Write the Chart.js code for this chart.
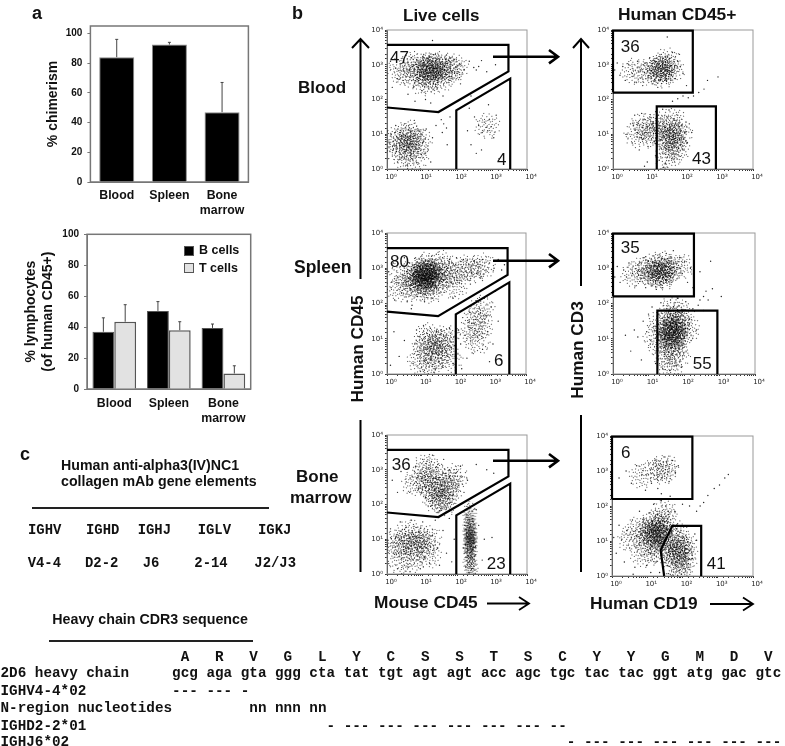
<!DOCTYPE html>
<html lang="en">
<head>
  <meta charset="UTF-8" />
  <title>Humanized mouse chimerism</title>
  <script src="https://cdn.jsdelivr.net/npm/chart.js"></script>
  <style>
    body { margin: 0; background: #fff; color: #111; font-family: 'Liberation Sans', Arial, sans-serif; }
    #page { position: relative; width: 785px; height: 746px; overflow: hidden; }
    canvas, svg { position: absolute; }
    canvas.flow { filter: blur(0.3px); }
    .t { position: absolute; white-space: pre; font-weight: bold; line-height: 1; transform: translateY(-50%); }
    .n { position: absolute; white-space: pre; font-size: 17px; line-height: 1; transform: translateY(-50%); }
    .r { position: absolute; white-space: pre; font-weight: bold; font-size: 17.2px; line-height: 1; transform: translate(-50%, -50%) rotate(-90deg); }
    .m { position: absolute; white-space: pre; font: bold 14.3px/1 'Liberation Mono', monospace; transform: translateY(-50%); }
    .rule { position: absolute; background: #222; height: 1.5px; }
    .sw { position: absolute; width: 8px; height: 8px; border: 1px solid #555; }
  </style>
</head>
<body>
<div id="page">
  <canvas id="chimerism"></canvas>
  <canvas id="lymphocytes"></canvas>
  <canvas id="bloodLive" class="flow"></canvas>
  <canvas id="bloodHuman" class="flow"></canvas>
  <canvas id="spleenLive" class="flow"></canvas>
  <canvas id="spleenHuman" class="flow"></canvas>
  <canvas id="boneLive" class="flow"></canvas>
  <canvas id="boneHuman" class="flow"></canvas>
  <svg width="785" height="746" style="left:0;top:0" fill="none" stroke="#000" stroke-width="2">
    <path d="M360.5 40V279M360.5 420V572M352 48L360.5 39L369 48" />
    <path d="M581 40V286M581 415V572M573 48L581 39L589 48" />
    <path d="M493 56.7H557M549 50L558 56.7L549 63.4" stroke-width="2.6" />
    <path d="M493 260.7H557M549 254L558 260.7L549 267.4" stroke-width="2.6" />
    <path d="M493 460.7H557M549 454L558 460.7L549 467.4" stroke-width="2.6" />
    <path d="M487 603.5H528M519 597L529 603.5L519 610" stroke-width="1.8" />
    <path d="M710 604H752M743 597.5L753 604L743 610.5" stroke-width="1.8" />
  </svg>
</div>

<script>
  // panel a
  const organs = ['Blood', 'Spleen', ['Bone', 'marrow']];
  const chimerism = [84, 92.5, 47];
  const chimerismErr = [96, 94, 67];
  const bCells = [37, 50.5, 39.5];
  const bCellsErr = [46, 56.5, 42];
  const tCells = [43.5, 38, 10];
  const tCellsErr = [54.5, 43.5, 15];
  const percentTicks = [0, 20, 40, 60, 80, 100];

  // panel b, gates (log10 of the fluorescence)
  const liveHumanGate = [[0, 3.57], [3.47, 3.57], [3.47, 2.81], [1.47, 1.64], [0, 1.77]];
  const liveMouseGate = [[1.98, 0], [1.98, 1.69], [3.52, 2.6], [3.52, 0]];
  const tGate = [[0, 2.2], [2.28, 2.2], [2.28, 3.98], [0, 3.98], [0, 2.2]];
  const bGate = [[1.25, 0], [1.25, 1.8], [2.94, 1.8], [2.94, 0]];
  const boneBGate = [[1.48, 0], [1.38, 0.74], [1.71, 1.43], [2.53, 1.43], [2.53, 0]];

  // panel b, events (log10 x, log10 y); clouds mark the dense populations
  const bloodLiveCloud = [[1.25,2.95],[1.3,2.85],[1.15,2.9],[1.4,3],[1.05,2.8],[1.2,2.7],[1.5,2.9],[1.75,2.85],[1.85,2.8],[1.65,2.95],[1,3],[0.85,2.75],[1.3,2.55],[0.6,2.7],[1.05,2.45],[0.7,3],[1.95,2.95],[1.55,2.6],[0.4,2.85],[1.28,2.9],[1.22,2.82],[0.65,0.8],[0.55,0.65],[0.75,0.95],[0.45,0.85],[0.8,0.6],[0.35,0.6],[0.6,1.05],[0.25,0.85],[0.95,0.8],[0.5,0.35],[0.8,0.3],[2.85,1.25]];
  const bloodLiveDots = [[0.1,3.1],[0.25,2.9],[0.3,2.6],[0.45,3.05],[0.5,2.45],[0.6,2.85],[0.7,3.2],[0.75,2.35],[0.85,3.15],[0.9,2.55],[1,2.25],[1.05,3.3],[1.12,2.42],[1.2,3.25],[1.32,2.3],[1.38,3.3],[1.45,2.5],[1.55,3.22],[1.6,2.62],[1.7,3.28],[1.8,2.55],[1.92,3.15],[2,2.75],[2.08,3.02],[2.2,2.85],[2.35,3.1],[2.48,2.92],[2.55,2.85],[2.62,2.95],[2.7,3.12],[2.85,2.8],[3.1,3],[0.15,2.35],[1.1,2],[0.8,1.95],[1.25,1.9],[1.6,2.1],[2.1,2.45],[0.05,0.3],[0.12,1],[0.18,0.55],[0.25,1.25],[0.3,0.2],[0.38,1.05],[0.42,0.32],[0.5,1.3],[0.58,0.12],[0.62,1.12],[0.7,0.3],[0.78,1.4],[0.85,0.18],[0.92,1.08],[0.98,0.42],[1.05,0.8],[1.12,1.15],[1.18,0.55],[1.25,0.2],[1.3,0.9],[1.4,1.25],[1.55,1.42],[1.62,1.3],[1.7,1.18],[1.58,1.05],[1.8,1.5],[1.72,0.7],[2.3,1.1],[2.4,0.7],[2.5,1.5],[2.55,0.45],[2.62,1.25],[2.72,1.05],[2.78,1.35],[2.85,1.2],[2.88,1.1],[2.92,1.42],[2.98,1.22],[3.05,0.9],[3.12,1.55],[2.7,0.55],[2.35,1.75],[2.9,1.85],[3.2,0.3],[0.6,2.15],[1.3,3.7],[2.4,2.1],[3,2.3]];

  const bloodHumanCloud = [[1.35,2.85],[1.42,2.95],[1.28,2.78],[1.5,2.9],[1.18,2.85],[1.4,2.7],[0.9,2.8],[1.7,2.85],[0.6,2.8],[1.55,3.1],[1.38,2.88],[1.65,0.95],[1.72,0.8],[1.58,1.12],[1.75,1.1],[1.65,0.6],[1.45,0.95],[1,1.15],[0.88,1.25],[1.1,0.95],[1.9,1],[1.7,1.4],[1.55,0.35],[0.7,1],[1.85,0.55],[1.3,1.25],[1.68,0.9]];
  const bloodHumanDots = [[0.05,2.85],[0.12,3.05],[0.2,2.7],[0.28,2.95],[0.35,2.55],[0.45,3],[0.55,2.75],[0.62,2.5],[0.7,3.1],[0.78,2.85],[0.85,2.4],[0.92,3.05],[1,2.65],[1.05,3.2],[1.12,2.45],[1.2,3.18],[1.28,2.35],[1.38,3.3],[1.48,2.55],[1.55,3.22],[1.62,2.72],[1.7,3.35],[1.78,2.6],[1.85,3.1],[1.92,2.95],[2,2.75],[2.1,2.4],[1.9,3.3],[1.55,3.8],[0.4,1],[0.5,1.3],[0.55,0.75],[0.62,1.55],[0.7,1.05],[0.75,0.55],[0.82,1.6],[0.85,0.85],[0.92,1.42],[1,0.65],[1.05,1.5],[1.12,1.3],[1.18,0.8],[1.22,1.65],[0.98,0.2],[1.3,1.55],[1.32,0.25],[1.38,0.6],[1.42,1.72],[1.5,0.15],[1.52,1.4],[1.6,1.7],[1.68,0.3],[1.72,1.45],[1.8,0.45],[1.85,1.55],[1.9,0.85],[1.95,1.25],[2,0.55],[2.05,1.05],[2.12,0.75],[2.18,1.3],[2.25,1.05],[1.7,1.95],[1.85,2.02],[2,2.1],[2.15,2.05],[2.3,2.1],[2.45,2.2],[2.6,2.3],[2.7,2.55],[3,2.65],[1.45,0.05],[0.9,0.08]];

  const spleenLiveCloud = [[1.1,2.85],[1.18,2.95],[1.02,2.75],[1.25,2.78],[0.95,2.9],[1.12,2.65],[1.3,3],[0.85,2.7],[1.45,2.85],[1.65,2.9],[0.75,2.85],[1.05,2.45],[1.85,2.85],[1.55,2.65],[2.1,2.9],[0.6,2.55],[1.1,3.1],[0.45,2.85],[0.8,2.4],[1.3,2.35],[2.3,3],[2.5,2.95],[1.95,2.5],[1.6,3.15],[0.35,2.4],[2.75,3.05],[1.1,2.85],[1.15,2.75],[1,2.85],[1.13,2.8],[1.08,2.9],[1.2,2.85],[1.05,2.65],[1.18,2.55],[1.4,2.7],[0.9,2.6],[1.45,0.85],[1.3,0.65],[1.55,0.95],[1.2,0.9],[1.62,0.65],[1.4,0.45],[1.05,0.7],[1.15,1.1],[1.7,1.05],[1.25,0.25],[0.95,0.35],[1.8,0.4],[2.55,1.6],[2.7,1.4],[2.4,1.2],[2.75,1.85],[2.6,0.9]];
  const spleenLiveDots = [[0.05,2.9],[0.12,2.45],[0.18,3.15],[0.22,2.1],[0.3,2.75],[0.38,3.05],[0.42,2.3],[0.5,3.3],[0.58,2.05],[0.65,3.15],[0.72,1.95],[0.8,3.28],[0.88,2.2],[1,3.35],[1.08,2.05],[1.2,3.35],[1.3,2.15],[1.42,3.4],[1.52,2.3],[1.6,3.3],[1.72,2.45],[1.8,3.25],[1.9,2.55],[2,3.3],[2.08,2.6],[2.2,3.25],[2.28,2.75],[2.35,3.12],[2.42,2.95],[2.5,3.2],[2.58,2.85],[2.65,3.05],[2.75,3.25],[2.85,2.95],[2.95,3.15],[3.08,3],[3.2,3.25],[3.3,2.95],[3.38,3.1],[2.4,2.55],[2.7,2.75],[1.9,2.15],[0.7,1.85],[1.35,0.05],[0.75,0.3],[0.8,0.85],[0.85,1.25],[0.9,0.55],[0.95,1.05],[1,0.2],[1.05,1.38],[1.1,0.7],[1.15,1.15],[1.18,0.3],[1.25,1.3],[1.3,1.05],[1.38,0.15],[1.42,1.2],[1.5,0.35],[1.55,1.25],[1.6,0.2],[1.7,1.1],[1.75,0.5],[1.8,1.3],[1.85,0.75],[1.9,0.3],[1.92,1.05],[0.2,1.2],[0.35,0.5],[0.5,0.95],[0.1,0.25],[2.05,1.25],[2.12,0.85],[2.18,1.6],[2.25,1.1],[2.3,0.45],[2.38,1.75],[2.42,1.3],[2.5,2],[2.55,1.55],[2.6,1.05],[2.65,1.85],[2.7,1.45],[2.75,0.7],[2.8,2.15],[2.85,1.65],[2.9,1.2],[3,1.9],[3.05,0.85],[3.12,2.35],[3.2,1.5],[3.28,0.4],[2.45,0.6],[2.15,0.15],[2.95,0.35]];

  const spleenHumanCloud = [[1.35,2.9],[1.45,3],[1.25,2.85],[1.55,2.95],[1.15,2.8],[1.4,2.75],[1.65,3.05],[1,2.9],[0.6,2.8],[0.85,2.95],[1.9,3.05],[1.35,3.15],[1.1,3.05],[1.42,2.92],[1.3,2.8],[1.7,1.15],[1.65,1.3],[1.75,1],[1.6,0.95],[1.8,1.3],[1.62,1.55],[1.72,0.72],[1.5,1.2],[1.9,1.1],[1.55,0.45],[1.85,1.55],[1.3,1.45],[1.2,1.05],[1.95,1.7],[1.7,1.85],[1.6,0.2],[1.8,0.5],[1.35,0.8],[2.1,1.3],[1.68,1.2],[1.72,1.1],[1.62,1.05],[1.75,1.35],[1.68,1.45],[1.6,1.25],[1.7,0.9]];
  const spleenHumanDots = [[0.05,2.75],[0.12,3.05],[0.2,2.6],[0.3,2.95],[0.38,2.75],[0.45,3.15],[0.55,2.85],[0.62,2.5],[0.7,3.1],[0.78,2.72],[0.85,3.3],[0.92,2.45],[1,3.2],[1.08,2.5],[1.15,3.35],[1.22,2.4],[1.3,3.38],[1.4,2.45],[1.5,3.42],[1.6,2.55],[1.7,3.5],[1.8,2.7],[1.88,3.3],[1.95,2.85],[2.02,3.2],[2.1,2.6],[2.18,3],[2.25,2.45],[2.45,2.9],[2.75,3.2],[0.35,1.1],[0.5,0.65],[0.6,1.25],[0.7,1.05],[0.8,0.4],[0.85,1.5],[0.95,1.2],[1,1.7],[1.05,0.85],[1.1,1.9],[1.15,1.35],[1.2,0.3],[1.25,1.05],[1.28,1.7],[1.32,0.6],[1.35,2.02],[1.4,0.15],[1.42,1.5],[1.48,0.8],[1.52,1.85],[1.6,0.1],[1.62,2.1],[1.7,1.9],[1.78,0.25],[1.82,2.15],[1.88,0.6],[1.95,1.75],[2,0.85],[2.05,2.05],[2.1,1.3],[2.15,1.55],[2.2,0.95],[2.25,1.85],[2.35,1.25],[2.4,1.95],[2.45,2.1],[2.55,2.2],[2.62,2.35],[2.68,2.1],[2.8,2.42],[3.05,2.2],[2.55,1.8]];

  const boneLiveCloud = [[1.25,2.5],[1.15,2.6],[1.4,2.45],[1.55,2.1],[1.48,2.2],[1.65,2.05],[1.7,2.55],[1.85,2.65],[1.3,2.95],[1,2.75],[1.1,3.1],[1.75,2.35],[1.4,2.15],[0.8,2.6],[1.95,2.8],[1.5,2.7],[0.8,0.95],[0.65,0.85],[0.95,1.05],[0.5,0.95],[0.85,0.7],[1.05,0.8],[0.35,0.8],[0.2,0.9],[0.75,0.4],[1.2,1],[0.6,1.2],[0.4,0.35],[1.2,0.55]];
  const boneMouseCloud = [[2.37,1.05],[2.38,1.25],[2.36,0.8],[2.4,0.6],[2.35,1.45],[2.38,0.35],[2.37,1],[2.39,1.15],[2.36,0.9],[2.38,1.7],[2.4,0.15]];
  const boneLiveDots = [[0.15,2.7],[0.3,2.35],[0.4,2.95],[0.55,2.65],[0.65,2.35],[0.72,2.8],[0.82,3.1],[0.9,2.45],[0.98,2.75],[1.02,3.3],[1.1,2.2],[1.18,3.05],[1.25,1.95],[1.3,3.42],[1.38,2.75],[1.45,3.15],[1.5,1.82],[1.58,2.85],[1.62,3.3],[1.7,1.9],[1.78,3],[1.88,2.25],[1.95,2.9],[2.05,2.55],[2.1,3.1],[2.2,2.35],[2.3,2.7],[2.55,3.15],[2.85,3],[3.05,2.9],[0.05,0.3],[0.1,1.3],[0.18,0.6],[0.25,1.05],[0.3,0.15],[0.38,1.5],[0.42,0.45],[0.55,1.35],[0.6,0.2],[0.7,1.55],[0.75,0.4],[0.88,1.35],[0.95,0.15],[1.02,1.5],[1.08,0.5],[1.15,1.22],[1.22,0.3],[1.3,1.1],[1.38,1.55],[1.45,0.75],[1.5,0.25],[1.6,1.25],[1.7,0.6],[1.78,1.6],[1.85,0.35],[1.92,1],[2.18,0.75],[2.22,1.4],[2.25,0.2],[2.28,1.7],[2.3,1.05],[2.32,0.5],[2.33,1.9],[2.42,0.15],[2.44,1.6],[2.46,0.9],[2.5,1.2],[2.52,0.55],[2.55,1.85],[2.62,1.4],[2.78,1],[3,1.05],[2.72,0.4]];

  const boneHumanCloud = [[1.25,3.05],[1.45,3],[1.55,3.1],[0.85,2.85],[1.25,1.25],[1.1,1.15],[1.35,1.3],[1.2,1],[1.42,1.05],[1,1.3],[1.55,1.5],[0.95,0.95],[1.48,0.75],[1.85,0.85],[1.95,0.65],[1.75,0.55],[2,0.95],[1.85,0.3],[1.68,0.95],[2.05,0.4],[0.7,1.3],[0.5,1.05],[1.3,1.6],[1.5,1.85],[0.9,0.6],[1.25,0.65],[1.8,1.15],[2.05,0.75],[1.95,0.2],[1.15,1.45],[1.28,1.2],[1.2,1.3],[1.32,1.12],[1.12,1.22],[1.4,1.38],[1.88,0.75],[1.9,0.55]];
  const boneHumanDots = [[0.2,2.8],[0.4,3],[0.55,2.65],[0.7,3.15],[0.85,2.9],[0.95,2.45],[1.05,3.2],[1.12,2.65],[1.22,3.3],[1.3,2.5],[1.5,3.4],[1.62,2.7],[1.72,3.3],[1.8,2.95],[1.88,3.15],[1.4,2.35],[0.05,1.1],[0.12,0.65],[0.2,1.45],[0.28,1.05],[0.35,0.4],[0.42,1.3],[0.5,0.8],[0.58,1.6],[0.65,0.25],[0.7,1.15],[0.78,1.85],[0.82,0.6],[0.9,1.6],[0.98,0.3],[1.05,1.8],[1.1,0.65],[1.18,2.05],[1.25,0.4],[1.3,1.75],[1.35,0.1],[1.4,2.15],[1.45,1.65],[1.52,2],[1.58,0.3],[1.6,1.85],[1.65,2.28],[1.7,1.3],[1.78,1.85],[1.82,1.35],[1.9,0.15],[1.95,1.25],[2.02,1.1],[2.1,0.65],[2.12,1.4],[2.18,0.25],[2.22,0.95],[2.28,0.5],[2.35,1.2],[2.4,1.02],[0.6,0.05],[1.1,0.1],[2,2.05],[2.2,2],[2.4,1.85],[2.5,2],[2.6,2.1],[2.72,2.3],[2.9,2.5],[3.05,2.6],[3.2,2.8],[3.3,2.9],[1.9,2.2]];

  const decadeLabels = ['10\u2070', '10\u00b9', '10\u00b2', '10\u00b3', '10\u2074'];

  // grain of a cloud point, pixels from its centre
  const grain = [[0,0],[2,-1],[-2,1],[1,3],[-1,-3],[3,2],[-3,-2],[4,-3],[-4,3],[0,-5],[1,5],[5,0],[-5,-1],[2,-5],[-2,6],[5,4],[-5,4],[4,-6],[-4,-5],[7,1],[-7,-1],[1,7],[-1,-7],[6,-3],[-6,3],[3,6],[-3,-7],[7,-5],[-8,5],[5,8],[-6,-7],[9,0],[-9,1],[0,9],[2,-9],[8,4],[-8,-4],[4,10],[-4,-9],[9,-4],[-10,6],[6,8],[-6,9],[7,-8],[-8,-7],[11,2],[-11,-2],[2,11],[-2,-11],[11,-5],[-11,5],[5,-11],[-6,11],[10,8],[-9,-9],[13,-1],[-13,1],[1,13],[0,-13]];

  // panel c
  const geneHeaders = ['IGHV', 'IGHD', 'IGHJ', 'IGLV', 'IGKJ'];
  const geneValues = ['V4-4', 'D2-2', 'J6', '2-14', 'J2/J3'];
  const seqRows = [
    '                     A   R   V   G   L   Y   C   S   S   T   S   C   Y   Y   G   M   D   V',
    '2D6 heavy chain     gcg aga gta ggg cta tat tgt agt agt acc agc tgc tac tac ggt atg gac gtc',
    'IGHV4-4*02          --- --- -',
    'N-region nucleotides         nn nnn nn',
    'IGHD2-2*01                            - --- --- --- --- --- --- --',
    'IGHJ6*02                                                          - --- --- --- --- --- ---'
  ];

  Chart.defaults.font.family = "'Liberation Sans', Arial, sans-serif";
  Chart.defaults.color = '#111';

  const page = document.getElementById('page');

  function addText(cls, text, x, y, size) {
    const el = document.createElement('div');
    el.className = cls;
    el.textContent = text;
    el.style.left = x + 'px';
    el.style.top = y + 'px';
    if (size) el.style.fontSize = size + 'px';
    page.appendChild(el);
  }

  function addRule(x1, x2, y) {
    const el = document.createElement('div');
    el.className = 'rule';
    el.style.left = x1 + 'px';
    el.style.width = (x2 - x1) + 'px';
    el.style.top = y + 'px';
    page.appendChild(el);
  }

  // point style for the clouds, xScale squeezes it for narrow populations
  function grainStamp(xScale) {
    const s = document.createElement('canvas');
    s.width = 28;
    s.height = 28;
    const c = s.getContext('2d');
    c.fillStyle = 'rgba(0,0,0,0.7)';
    grain.forEach(g => c.fillRect(14 + g[0] * xScale, 14 + g[1], 1, 1));
    return s;
  }
  const wideStamp = grainStamp(1);
  const narrowStamp = grainStamp(0.5);

  // box round the plot area
  const framePlugin = {
    id: 'frame',
    beforeDatasetsDraw(chart, args, opts) {
      const a = chart.chartArea, c = chart.ctx;
      c.save();
      c.strokeStyle = opts.color;
      c.lineWidth = opts.width;
      c.strokeRect(a.left, a.top, a.right - a.left, a.bottom - a.top);
      c.restore();
    }
  };

  // one sided error bars, the top value comes from dataset.errTop
  const errorPlugin = {
    id: 'errorBars',
    afterDatasetsDraw(chart) {
      const c = chart.ctx, y = chart.scales.y;
      c.save();
      c.strokeStyle = '#444';
      c.lineWidth = 1;
      chart.data.datasets.forEach((ds, i) => {
        chart.getDatasetMeta(i).data.forEach((bar, j) => {
          const top = y.getPixelForValue(ds.errTop[j]);
          c.beginPath();
          c.moveTo(bar.x, bar.y);
          c.lineTo(bar.x, top);
          c.moveTo(bar.x - 1.5, top);
          c.lineTo(bar.x + 1.5, top);
          c.stroke();
        });
      });
      c.restore();
    }
  };

  function placeCanvas(id, box) {
    const el = document.getElementById(id);
    el.width = box.w;
    el.height = box.h;
    el.style.left = box.x + 'px';
    el.style.top = box.y + 'px';
    return el;
  }

  // fixed scale sizes so the plot area lands where the reference has it
  const fitX = (box, plot) => s => { s.height = box.y + box.h - plot.bottom; s.paddingLeft = 0; s.paddingRight = 0; };
  const fitY = (box, plot) => s => { s.width = plot.left - box.x; s.paddingTop = 0; s.paddingBottom = 0; };

  function barChart(id, box, plot, datasets, title, pad) {
    new Chart(placeCanvas(id, box), {
      type: 'bar',
      data: { labels: organs, datasets },
      options: {
        responsive: false,
        animation: false,
        events: [],
        layout: { padding: { top: plot.top - box.y, right: box.x + box.w - plot.right } },
        plugins: { legend: { display: false }, tooltip: { enabled: false }, frame: { color: '#777', width: 1.5 } },
        scales: {
          x: {
            grid: { display: false, drawTicks: false },
            border: { color: '#777' },
            ticks: { color: '#111', padding: pad, maxRotation: 0, font: { size: 12.3, weight: 'bold' } },
            afterFit: fitX(box, plot)
          },
          y: {
            min: 0,
            max: plot.yMax,
            grid: { drawOnChartArea: false, tickLength: 3, color: '#777' },
            border: { color: '#777' },
            ticks: { color: '#111', padding: 5, font: { size: 10, weight: 'bold' } },
            afterBuildTicks: s => { s.ticks = percentTicks.map(value => ({ value })); },
            title: { display: true, text: title, color: '#111', padding: 0, font: { size: 14, weight: 'bold' } },
            afterFit: fitY(box, plot)
          }
        }
      },
      plugins: [framePlugin, errorPlugin]
    });
  }

  barChart('chimerism', { x: 44.6, y: 20, w: 215, h: 205 },
    { left: 90, right: 248, top: 26, bottom: 182, yMax: 105 },
    [{ data: chimerism, errTop: chimerismErr, backgroundColor: '#000', borderColor: '#888', borderWidth: 1, barPercentage: 0.665, categoryPercentage: 1 }],
    '% chimerism', 6);

  barChart('lymphocytes', { x: 23, y: 228, w: 236, h: 200 },
    { left: 87, right: 250.7, top: 234.3, bottom: 389, yMax: 100 },
    [
      { data: bCells, errTop: bCellsErr, backgroundColor: '#000', borderColor: '#555', borderWidth: 1, barPercentage: 1, categoryPercentage: 0.8 },
      { data: tCells, errTop: tCellsErr, backgroundColor: '#e2e2e2', borderColor: '#555', borderWidth: 1.5, barPercentage: 1, categoryPercentage: 0.8 }
    ],
    ['% lymphocytes', '(of human CD45+)'], 7);

  function flowChart(id, plot, dots, cloud, gates, narrowCloud) {
    const box = { x: plot.left - 28, y: plot.top - 8, w: plot.right - plot.left + 40, h: plot.bottom - plot.top + 30 };
    const toPoints = list => list.map(p => ({ x: 10 ** p[0], y: 10 ** p[1] }));
    const gateSets = gates.map(g => ({
      data: toPoints(g), showLine: true, borderColor: '#000', borderWidth: 2.2, pointRadius: 0, tension: 0, order: 0, clip: 3
    }));
    const logTicks = {
      autoSkip: false, maxRotation: 0, minRotation: 0, color: '#222', padding: 2,
      font: { family: "'DejaVu Sans', sans-serif", size: 7 },
      callback: v => {
        const e = Math.log10(v);
        return Math.abs(e - Math.round(e)) < 1e-6 ? decadeLabels[Math.round(e)] : '';
      }
    };
    // image point styles ignore the radius, keep it small so layout adds no overflow padding
    new Chart(placeCanvas(id, box), {
      type: 'scatter',
      data: {
        datasets: [
          ...gateSets,
          { data: toPoints(dots), backgroundColor: '#222', borderWidth: 0, pointRadius: 0.7, order: 1 },
          { data: toPoints(cloud), pointStyle: wideStamp, pointRadius: 1, pointRotation: ctx => ctx.dataIndex * 67, order: 2 },
          { data: toPoints(narrowCloud || []), pointStyle: narrowStamp, pointRadius: 1, pointRotation: ctx => ctx.dataIndex % 2 * 180, order: 2 }
        ]
      },
      options: {
        responsive: false,
        animation: false,
        events: [],
        layout: { padding: { top: plot.top - box.y, right: box.x + box.w - plot.right } },
        plugins: { legend: { display: false }, tooltip: { enabled: false }, frame: { color: '#999', width: 1 } },
        scales: {
          x: {
            type: 'logarithmic', min: 1, max: 10000,
            grid: { drawOnChartArea: false, tickLength: 2, color: '#333' },
            border: { color: '#333' },
            ticks: { ...logTicks, labelOffset: 4 },
            afterFit: fitX(box, plot)
          },
          y: {
            type: 'logarithmic', min: 1, max: 10000,
            grid: { drawOnChartArea: false, tickLength: 2, color: '#333' },
            border: { color: '#333' },
            ticks: { ...logTicks, labelOffset: 0 },
            afterFit: fitY(box, plot)
          }
        }
      },
      plugins: [framePlugin]
    });
  }

  flowChart('bloodLive', { left: 387, right: 527, top: 30, bottom: 169.3 }, bloodLiveDots, bloodLiveCloud, [liveHumanGate, liveMouseGate]);
  flowChart('bloodHuman', { left: 613.3, right: 754, top: 30, bottom: 169.3 }, bloodHumanDots, bloodHumanCloud, [tGate, bGate]);
  flowChart('spleenLive', { left: 387, right: 526.7, top: 233.3, bottom: 374.3 }, spleenLiveDots, spleenLiveCloud, [liveHumanGate, liveMouseGate]);
  flowChart('spleenHuman', { left: 612.7, right: 755, top: 233.3, bottom: 375 }, spleenHumanDots, spleenHumanCloud, [tGate, bGate]);
  flowChart('boneLive', { left: 387, right: 527.3, top: 435.3, bottom: 575.3 }, boneLiveDots, boneLiveCloud, [liveHumanGate, liveMouseGate], boneMouseCloud);
  flowChart('boneHuman', { left: 612.3, right: 753.3, top: 435.7, bottom: 576 }, boneHumanDots, boneHumanCloud, [tGate, boneBGate]);

  // legend of the lower bar chart
  [['#000', 245.5, 'B cells'], ['#e2e2e2', 263, 'T cells']].forEach(([col, y, label]) => {
    const sw = document.createElement('div');
    sw.className = 'sw';
    sw.style.left = '184px';
    sw.style.top = y + 'px';
    sw.style.background = col;
    page.appendChild(sw);
    addText('t', label, 199, y + 4.5, 12.5);
  });

  // panel letters and headings
  addText('t', 'a', 32, 13, 18);
  addText('t', 'b', 292, 13, 18);
  addText('t', 'c', 20, 454, 18);
  addText('t', 'Live cells', 403, 15, 17);
  addText('t', 'Human CD45+', 618, 15, 17.4);
  addText('t', 'Blood', 298, 86.7, 17);
  addText('t', 'Spleen', 294, 268, 17.5);
  addText('t', 'Bone', 296, 476, 17);
  addText('t', 'marrow', 290, 497, 17);
  addText('r', 'Human CD45', 358, 349);
  addText('r', 'Human CD3', 578, 350);
  addText('t', 'Mouse CD45', 374, 603, 17.3);
  addText('t', 'Human CD19', 590, 604, 17.3);

  // gate percentages
  [['47', 390, 56.7], ['4', 497, 159], ['36', 620.7, 45.7], ['43', 692, 157.7],
   ['80', 390, 260.7], ['6', 494, 360], ['35', 620.7, 247.3], ['55', 692.7, 363.3],
   ['36', 391.7, 464], ['23', 486.7, 562.7], ['6', 621, 451.7], ['41', 706.7, 563.3]
  ].forEach(([s, x, y]) => addText('n', s, x, y));

  // panel c
  addText('t', 'Human anti-alpha3(IV)NC1', 61, 465, 14.2);
  addText('t', 'collagen mAb gene elements', 61, 481, 14.2);
  addRule(32, 269, 507);
  const headerX = [28, 86, 137.7, 197.7, 258];
  const valueX = [27.7, 85, 142.7, 194.3, 254.3];
  geneHeaders.forEach((s, i) => addText('m', s, headerX[i], 531, 13.9));
  geneValues.forEach((s, i) => addText('m', s, valueX[i], 564.3, 13.9));
  addText('t', 'Heavy chain CDR3 sequence', 52.3, 619.3, 14.25);
  addRule(49.3, 253.3, 640);
  const seqY = [657, 673, 690.7, 708.3, 726, 741.7];
  seqRows.forEach((s, i) => addText('m', s, 0.5, seqY[i]));
</script>
</body>
</html>
